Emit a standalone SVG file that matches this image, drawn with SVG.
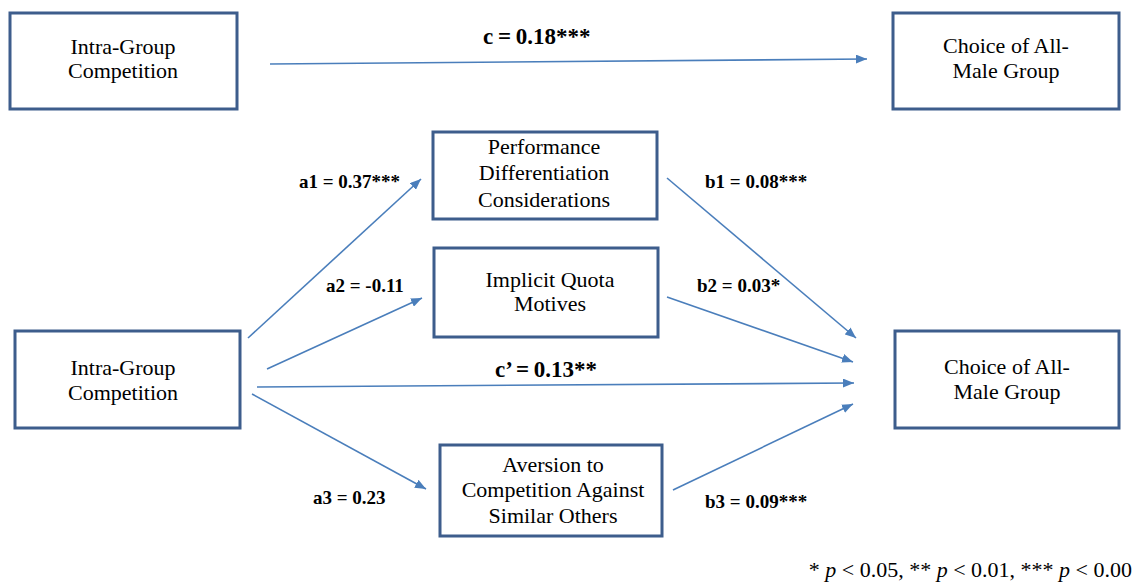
<svg xmlns="http://www.w3.org/2000/svg" width="1133" height="588" viewBox="0 0 1133 588">
  <defs>
    <marker id="arrow" viewBox="0 0 11 9" refX="11" refY="4.5" markerWidth="11" markerHeight="9" markerUnits="userSpaceOnUse" orient="auto">
      <path d="M0,0 L11,4.5 L0,9 z" fill="#4A7EBB"/>
    </marker>
    <style>
      text { font-family: 'Liberation Serif', 'DejaVu Serif', serif; fill: #000000; }
      .box { fill: #FFFFFF; stroke: #3D5D8C; stroke-width: 3; }
      .lbl { font-size: 22px; text-anchor: middle; }
      .coef { font-size: 19px; font-weight: bold; }
      .coef-lg { font-size: 23px; font-weight: bold; word-spacing: -1px; }
      .edge { stroke: #4A7EBB; stroke-width: 1.6; fill: none; marker-end: url(#arrow); }
      .note { font-size: 22px; }
    </style>
  </defs>

  <rect width="1133" height="588" fill="#FFFFFF"/>

  <!-- total effect model -->
  <g id="x-total">
    <rect class="box" x="10" y="13" width="227" height="96"/>
    <text class="lbl" x="123" y="54">Intra-Group</text>
    <text class="lbl" x="123" y="78">Competition</text>
  </g>
  <g id="y-total">
    <rect class="box" x="893" y="13" width="226" height="96"/>
    <text class="lbl" x="1006" y="53">Choice of All-</text>
    <text class="lbl" x="1006" y="78">Male Group</text>
  </g>

  <!-- mediation model -->
  <g id="x-med">
    <rect class="box" x="15" y="331" width="225" height="97"/>
    <text class="lbl" x="123" y="375">Intra-Group</text>
    <text class="lbl" x="123" y="400">Competition</text>
  </g>
  <g id="m1">
    <rect class="box" x="433" y="132" width="224" height="87"/>
    <text class="lbl" x="544" y="154">Performance</text>
    <text class="lbl" x="544" y="180">Differentiation</text>
    <text class="lbl" x="544" y="207">Considerations</text>
  </g>
  <g id="m2">
    <rect class="box" x="434" y="248" width="224" height="89"/>
    <text class="lbl" x="550" y="287">Implicit Quota</text>
    <text class="lbl" x="550" y="311">Motives</text>
  </g>
  <g id="m3">
    <rect class="box" x="440" y="445" width="222" height="91"/>
    <text class="lbl" x="553" y="472">Aversion to</text>
    <text class="lbl" x="553" y="497">Competition Against</text>
    <text class="lbl" x="553" y="523">Similar Others</text>
  </g>
  <g id="y-med">
    <rect class="box" x="895" y="331" width="224" height="97"/>
    <text class="lbl" x="1007" y="374">Choice of All-</text>
    <text class="lbl" x="1007" y="399">Male Group</text>
  </g>

  <!-- paths -->
  <g id="connectors">
    <line class="edge" x1="270" y1="64" x2="867" y2="59"/>
    <line class="edge" x1="248" y1="338" x2="421" y2="179"/>
    <line class="edge" x1="267" y1="369" x2="422" y2="298"/>
    <line class="edge" x1="257" y1="387" x2="854" y2="383"/>
    <line class="edge" x1="252" y1="394" x2="426" y2="489"/>
    <line class="edge" x1="667" y1="178" x2="856" y2="338"/>
    <line class="edge" x1="667" y1="297" x2="853" y2="362"/>
    <line class="edge" x1="673" y1="490" x2="853" y2="404"/>
  </g>

  <!-- path coefficients -->
  <g id="coefficients">
    <text class="coef-lg" x="483" y="44" font-size="24">c = 0.18***</text>
    <text class="coef-lg" x="495" y="377">c’ = 0.13**</text>
    <text class="coef" x="299" y="188">a1 = 0.37***</text>
    <text class="coef" x="326" y="292">a2 = -0.11</text>
    <text class="coef" x="313" y="504">a3 = 0.23</text>
    <text class="coef" x="705" y="188">b1 = 0.08***</text>
    <text class="coef" x="697" y="292">b2 = 0.03*</text>
    <text class="coef" x="705" y="508">b3 = 0.09***</text>
  </g>

  <g id="footnote">
    <text class="note" x="1132" y="577" text-anchor="end">* <tspan font-style="italic">p</tspan> &lt; 0.05, ** <tspan font-style="italic">p</tspan> &lt; 0.01, *** <tspan font-style="italic">p</tspan> &lt; 0.00</text>
  </g>
</svg>
